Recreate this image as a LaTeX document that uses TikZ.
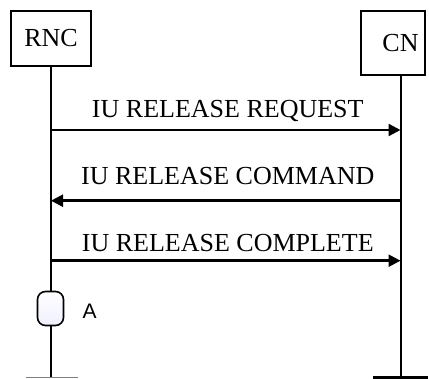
\documentclass[tikz,border=0pt]{standalone}
\usepackage{fontspec}
\setmainfont{Liberation Serif}
\newfontfamily\statefont{Liberation Sans}
\usetikzlibrary{arrows.meta, positioning}

\begin{document}
\begin{tikzpicture}[x=1pt, y=-1pt, >={Triangle[length=12pt, width=12pt]}, font=\fontsize{26}{30}\selectfont]
    % Define styles for entities, lifelines, messages and the state box
    \tikzstyle{entity} = [draw, rectangle, line width=1.1pt, inner sep=0pt]
    \tikzstyle{lifeline} = [draw, line width=2pt]
    \tikzstyle{msg} = [draw, line width=2.4pt, ->]
    \tikzstyle{msglabel} = [midway, anchor=base, inner sep=0pt, xshift=2pt]
    \tikzstyle{statebox} = [draw, line width=1.6pt, rounded corners=8pt, minimum width=26pt, minimum height=34pt, inner sep=0pt, top color=white, bottom color=blue!6!white]

    \useasboundingbox (0,0) rectangle (429,379);

    % Entities
    \node [entity, minimum width=80pt, minimum height=55pt] (rnc) at (51,38.5) {RNC};
    \node [entity, minimum width=64pt, minimum height=64pt] (cn) at (393,43) {};
    \node [inner sep=0pt] (cnname) at (400.5,43) {CN};

    % Lifeline ends
    \coordinate (rncend) at (51,378);
    \coordinate (cnend) at (400.5,378);

    % Lifelines
    \draw[lifeline] (rnc.south) -- (rncend);
    \draw[lifeline] (cnname |- cn.south) -- (cnend);
    \draw[gray, line width=1pt] (rncend) ++(-25,0) -- ++(52,0);
    \draw[line width=2.4pt] (cnend) ++(-27.5,-0.5) -- ++(55,0);

    % Message points on the lifelines
    \coordinate (rnc1) at (51,130);
    \coordinate (cn1) at (400.5,130);
    \coordinate (rnc2) at (51,200.7);
    \coordinate (cn2) at (400.5,200.7);
    \coordinate (rnc3) at (51,260.7);
    \coordinate (cn3) at (400.5,260.7);

    % Messages
    \draw[msg] (rnc1) -- node[msglabel, yshift=12.3pt] (req) {IU RELEASE REQUEST} (cn1);
    \draw[msg] (cn2) -- node[msglabel, yshift=16.4pt] (cmd) {IU RELEASE COMMAND} (rnc2);
    \draw[msg] (rnc3) -- node[msglabel, yshift=9pt] (cmp) {IU RELEASE COMPLETE} (cn3);

    % State on the RNC lifeline
    \node [statebox] (state) at (50.5,308.5) {};
    \node [right=18pt of state, yshift=-2.5pt, inner sep=0pt, font=\statefont\fontsize{21}{24}\selectfont] (statename) {A};
\end{tikzpicture}
\end{document}
